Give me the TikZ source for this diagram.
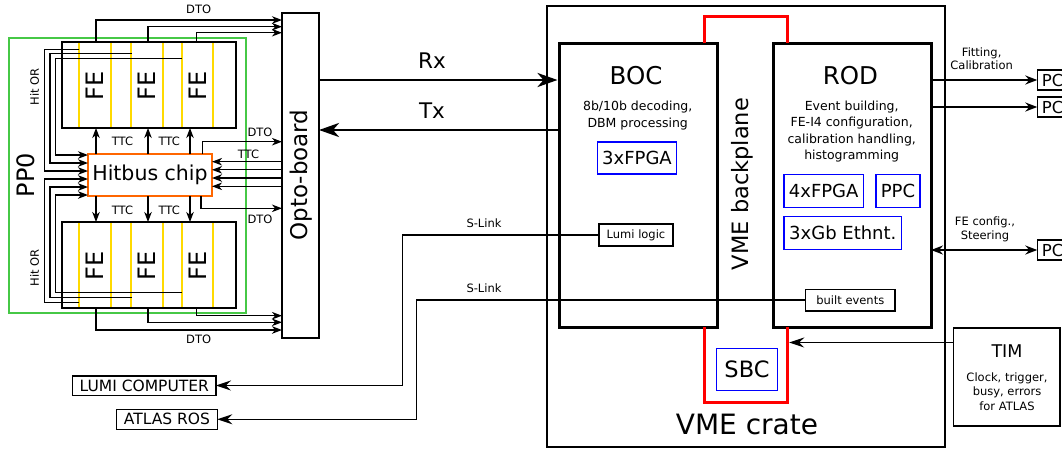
\documentclass[tikz,border=0pt]{standalone}
\usepackage{fontspec}
\setmainfont{DejaVu Sans}
\usetikzlibrary{arrows.meta}
\definecolor{ppgreen}{RGB}{70,200,70}
\definecolor{feyellow}{RGB}{255,218,0}
\definecolor{hborange}{RGB}{255,102,0}
\definecolor{fpgablue}{RGB}{0,0,255}
\definecolor{vmered}{RGB}{255,0,0}
\begin{document}
\begin{tikzpicture}[x=1pt,y=-1pt,
  box/.style={draw, rectangle, inner sep=0pt, outer sep=0pt},
  bluebox/.style={box, draw=fpgablue, line width=1.5pt},
  smallbox/.style={box, line width=1.3pt},
  fmod/.style={box, line width=2.4pt, minimum width=174pt, minimum height=86pt},
  feline/.style={draw=feyellow, line width=1.8pt},
  wire/.style={line width=1.3pt},
  tarr/.style={wire, -{Stealth[length=10pt,width=7.5pt,inset=3pt]}},
  marr/.style={line width=1.5pt, -{Stealth[length=15pt,width=10pt,inset=5pt]}},
  parr/.style={line width=2pt, -{Stealth[length=12pt,width=9pt,inset=4pt]}},
  parrb/.style={line width=2pt, {Stealth[length=12pt,width=9pt,inset=4pt]}-{Stealth[length=12pt,width=9pt,inset=4pt]}},
  barr/.style={line width=2.8pt, -{Stealth[length=20pt,width=14pt,inset=6pt]}},
  redline/.style={draw=vmered, line width=3pt},
  fs/.style={font=\fontsize{#1}{#1}\selectfont},
  fsm/.style={font=\fontsize{11.5}{14}\selectfont},
]
\useasboundingbox (0,0) rectangle (1062,448);

% ---------------- PP0 ----------------
\node[box, draw=ppgreen, line width=1.5pt, minimum width=237pt, minimum height=275pt] (pp0) at (127.5,175.5) {};
\node[rotate=90, fs=24] (pp0lbl) at (25.5,175) {PP0};

% FE modules
\foreach \x in {79,111,131,163,182,213} {
  \draw[feline] (\x,42) -- (\x,128);
  \draw[feline] (\x,222) -- (\x,308);
}
\node[fmod] (fetop) at (149,85) {};
\node[fmod] (febot) at (149,265) {};
\node[rotate=90, fs=24] (fe1) at (95,86) {FE};
\node[rotate=90, fs=24] (fe2) at (147,86) {FE};
\node[rotate=90, fs=24] (fe3) at (197.5,86) {FE};
\node[rotate=90, fs=24] (fe4) at (95,266) {FE};
\node[rotate=90, fs=24] (fe5) at (147,266) {FE};
\node[rotate=90, fs=24] (fe6) at (197.5,266) {FE};
\node[rotate=90, fsm] (hitor1) at (34.7,86.7) {Hit OR};
\node[rotate=90, fsm] (hitor2) at (34.7,267.7) {Hit OR};

% Hitbus chip
\node[box, draw=hborange, line width=2.2pt, fill=white, minimum width=124pt, minimum height=42pt, fs=20.5] (hitbus) at (150,175) {Hitbus chip};

% Opto-board
\node[box, line width=2pt, minimum width=37pt, minimum height=325pt] (opto) at (300.5,175.5) {};
\node[rotate=90, fs=23] (optolbl) at (301,175) {Opto-board};

% helper coordinates
\coordinate (c1) at (96,0);
\coordinate (c2) at (148,0);
\coordinate (c3) at (196.7,0);
\coordinate (t3) at (190,0);

% TTC hitbus -> FE
\draw[tarr] (hitbus.north -| c1) -- (fetop.south -| c1);
\draw[tarr] (hitbus.north -| c2) -- (fetop.south -| c2);
\draw[tarr] (hitbus.north -| t3) -- (fetop.south -| t3);
\draw[tarr] (hitbus.south -| c1) -- (febot.north -| c1);
\draw[tarr] (hitbus.south -| c2) -- (febot.north -| c2);
\draw[tarr] (hitbus.south -| t3) -- (febot.north -| t3);
\node[fsm] (ttc1) at (122.5,141.2) {TTC};
\node[fsm] (ttc2) at (169.2,141.2) {TTC};
\node[fsm] (ttc3) at (122.5,210) {TTC};
\node[fsm] (ttc4) at (169.2,210) {TTC};

% DTO FE -> opto
\coordinate (dt1) at (0,20);
\coordinate (dt2) at (0,26.7);
\coordinate (dt3) at (0,32.7);
\coordinate (db1) at (0,330);
\coordinate (db2) at (0,322.3);
\coordinate (db3) at (0,315.7);
\draw[tarr] (fetop.north -| c1) |- (opto.west |- dt1);
\draw[tarr] (fetop.north -| c2) |- (opto.west |- dt2);
\draw[tarr] (fetop.north -| c3) |- (opto.west |- dt3);
\draw[tarr] (febot.south -| c1) |- (opto.west |- db1);
\draw[tarr] (febot.south -| c2) |- (opto.west |- db2);
\draw[tarr] (febot.south -| c3) |- (opto.west |- db3);
\node[fsm] (dtotop) at (198.7,9.8) {DTO};
\node[fsm] (dtobot) at (198.7,339.2) {DTO};

% DTO hitbus -> opto
\coordinate (hdu) at (202.7,141.7);
\coordinate (hdd) at (201,208.3);
\draw[tarr] (hitbus.north -| hdu) |- (opto.west |- hdu);
\draw[tarr] (hitbus.south -| hdd) |- (opto.west |- hdd);
\node[fsm] (dtohu) at (260,132) {DTO};
\node[fsm] (dtohd) at (260,219) {DTO};

% TTC opto -> hitbus
\foreach \y/\n in {161.7/1,169.8/2,178/3,186.3/4} {
  \coordinate (tc\n) at (0,\y);
  \draw[tarr] (opto.west |- tc\n) -- (hitbus.east |- tc\n);
}
\node[fsm] (ttco) at (248.5,154.2) {TTC};

% Hit OR lines
\coordinate (ho1) at (0,155);
\coordinate (ho2) at (0,163);
\coordinate (ho3) at (0,171);
\coordinate (ho4) at (0,179);
\coordinate (ho5) at (0,187);
\coordinate (ho6) at (0,195);
\coordinate (hs1) at (79,49.3);
\coordinate (hs2) at (131.7,53.3);
\coordinate (hs3) at (181.7,58.3);
\coordinate (hs4) at (79,302.3);
\coordinate (hs5) at (131.7,297.3);
\coordinate (hs6) at (181.7,292.7);
\draw[tarr] (hs1) -- (44.3,49.3) |- (hitbus.west |- ho3);
\draw[tarr] (hs2) -- (50,53.3) |- (hitbus.west |- ho2);
\draw[tarr] (hs3) -- (55.7,58.3) |- (hitbus.west |- ho1);
\draw[tarr] (hs4) -- (44.3,302.3) |- (hitbus.west |- ho4);
\draw[tarr] (hs5) -- (50,297.3) |- (hitbus.west |- ho5);
\draw[tarr] (hs6) -- (55.7,292.7) |- (hitbus.west |- ho6);

% ---------------- VME crate ----------------
\node[box, line width=1.2pt, minimum width=398pt, minimum height=441pt] (crate) at (746,226.5) {};
\node[fs=28] (cratelbl) at (747,424) {VME crate};

\node[box, line width=3pt, minimum width=158pt, minimum height=284pt] (boc) at (638,185) {};
\node[box, line width=3pt, minimum width=158pt, minimum height=284pt] (rod) at (852,185) {};
\node[fs=24.5] (boclbl) at (636,76) {BOC};
\node[fs=24.5] (rodlbl) at (850.5,76) {ROD};
\node[font=\fontsize{12.5}{17}\selectfont, align=center] (bocsub) at (637.7,116) {8b/10b decoding,\\DBM processing};
\node[font=\fontsize{12.5}{16.1}\selectfont, align=center] (rodsub) at (851.7,131.5) {Event building,\\FE-I4 configuration,\\calibration handling,\\histogramming};
\node[bluebox, minimum width=79pt, minimum height=32pt, fs=18] (fpga3) at (637,158) {3xFPGA};
\node[bluebox, minimum width=79.3pt, minimum height=33.4pt, fs=18] (fpga4) at (823.7,191) {4xFPGA};
\node[bluebox, minimum width=44pt, minimum height=33.4pt, fs=18] (ppc) at (898,191) {PPC};
\node[bluebox, minimum width=117.7pt, minimum height=32.6pt, fs=18] (eth) at (842.8,233) {3xGb Ethnt.};
\node[smallbox, fill=white, minimum width=74pt, minimum height=22pt, fs=11.5] (lumi) at (636,235) {Lumi logic};

% red backplane
\coordinate (rl) at (704,16);
\coordinate (rr) at (787.7,16);
\coordinate (rbl) at (704,402.3);
\coordinate (rbr) at (787.7,402.3);
\draw[redline] (boc.north -| rl) |- (rr) -- (rod.north -| rr);
\draw[redline] (boc.south -| rbl) |- (rbr) -- (rod.south -| rbr);
\node[rotate=90, fs=22.5] (vmebp) at (742.5,184) {VME backplane};
\node[bluebox, minimum width=61pt, minimum height=42.4pt, fs=22.5] (sbc) at (747,369.5) {SBC};

% Rx / Tx
\coordinate (rxy) at (0,80);
\coordinate (txy) at (0,130);
\draw[barr] (opto.east |- rxy) -- ([xshift=-1.5pt]boc.west |- rxy);
\draw[barr] (boc.west |- txy) -- (opto.east |- txy);
\node[fs=21.5] (rxlbl) at (432,61) {Rx};
\node[fs=21.5] (txlbl) at (432,110.3) {Tx};

% TIM
\node[box, line width=1.5pt, minimum width=106.7pt, minimum height=97.7pt] (tim) at (1006.7,377) {};
\node[fs=17.5] (timlbl) at (1007,351.5) {TIM};
\node[font=\fontsize{11.5}{14.7}\selectfont, align=center] (timsub) at (1007,391.5) {Clock, trigger,\\busy, errors\\for ATLAS};
\coordinate (timy) at (0,342.5);
\draw[marr] (tim.west |- timy) -- ([xshift=1.5pt]rbr |- timy);

% PCs
\node[smallbox, minimum height=20pt, anchor=west, inner xsep=4.5pt, fs=16.5] (pc1) at (1037.3,80) {PC\hspace{15pt}};
\node[smallbox, minimum height=20pt, anchor=west, inner xsep=4.5pt, fs=16.5] (pc2) at (1037.3,107) {PC\hspace{15pt}};
\node[smallbox, minimum height=20pt, anchor=west, inner xsep=4.5pt, fs=16.5] (pc3) at (1037.3,250) {PC\hspace{15pt}};
\draw[parr] (rod.east |- pc1.west) -- (pc1.west);
\draw[parr] (rod.east |- pc2.west) -- (pc2.west);
\draw[parrb] (rod.east |- pc3.west) -- (pc3.west);
\node[font=\fontsize{11.5}{13.5}\selectfont, align=center] (fitlbl) at (981.7,58.5) {Fitting,\\Calibration};
\node[font=\fontsize{11.5}{14}\selectfont, align=center] (felbl) at (985,229.7) {FE config.,\\Steering};

% S-Link outputs
\node[smallbox, fill=white, minimum width=89.3pt, minimum height=21.7pt, fs=11.5] (built) at (850.3,300) {built events};
\node[smallbox, minimum width=143.3pt, minimum height=19.3pt, fs=15.5] (lumicomp) at (144.3,385.5) {LUMI COMPUTER};
\node[smallbox, minimum width=100.6pt, minimum height=20pt, fs=15.5] (atlasros) at (167,419.3) {ATLAS ROS};
\coordinate (sl1) at (402.3,0);
\coordinate (sl2) at (416.7,0);
\draw[marr] (lumi.west) -- (lumi.west -| sl1) |- (lumicomp.east);
\draw[marr] (built.west) -- (built.west -| sl2) |- (atlasros.east);
\node[fsm] (slink1) at (484,223.5) {S-Link};
\node[fsm] (slink2) at (484,288.5) {S-Link};
\end{tikzpicture}
\end{document}
